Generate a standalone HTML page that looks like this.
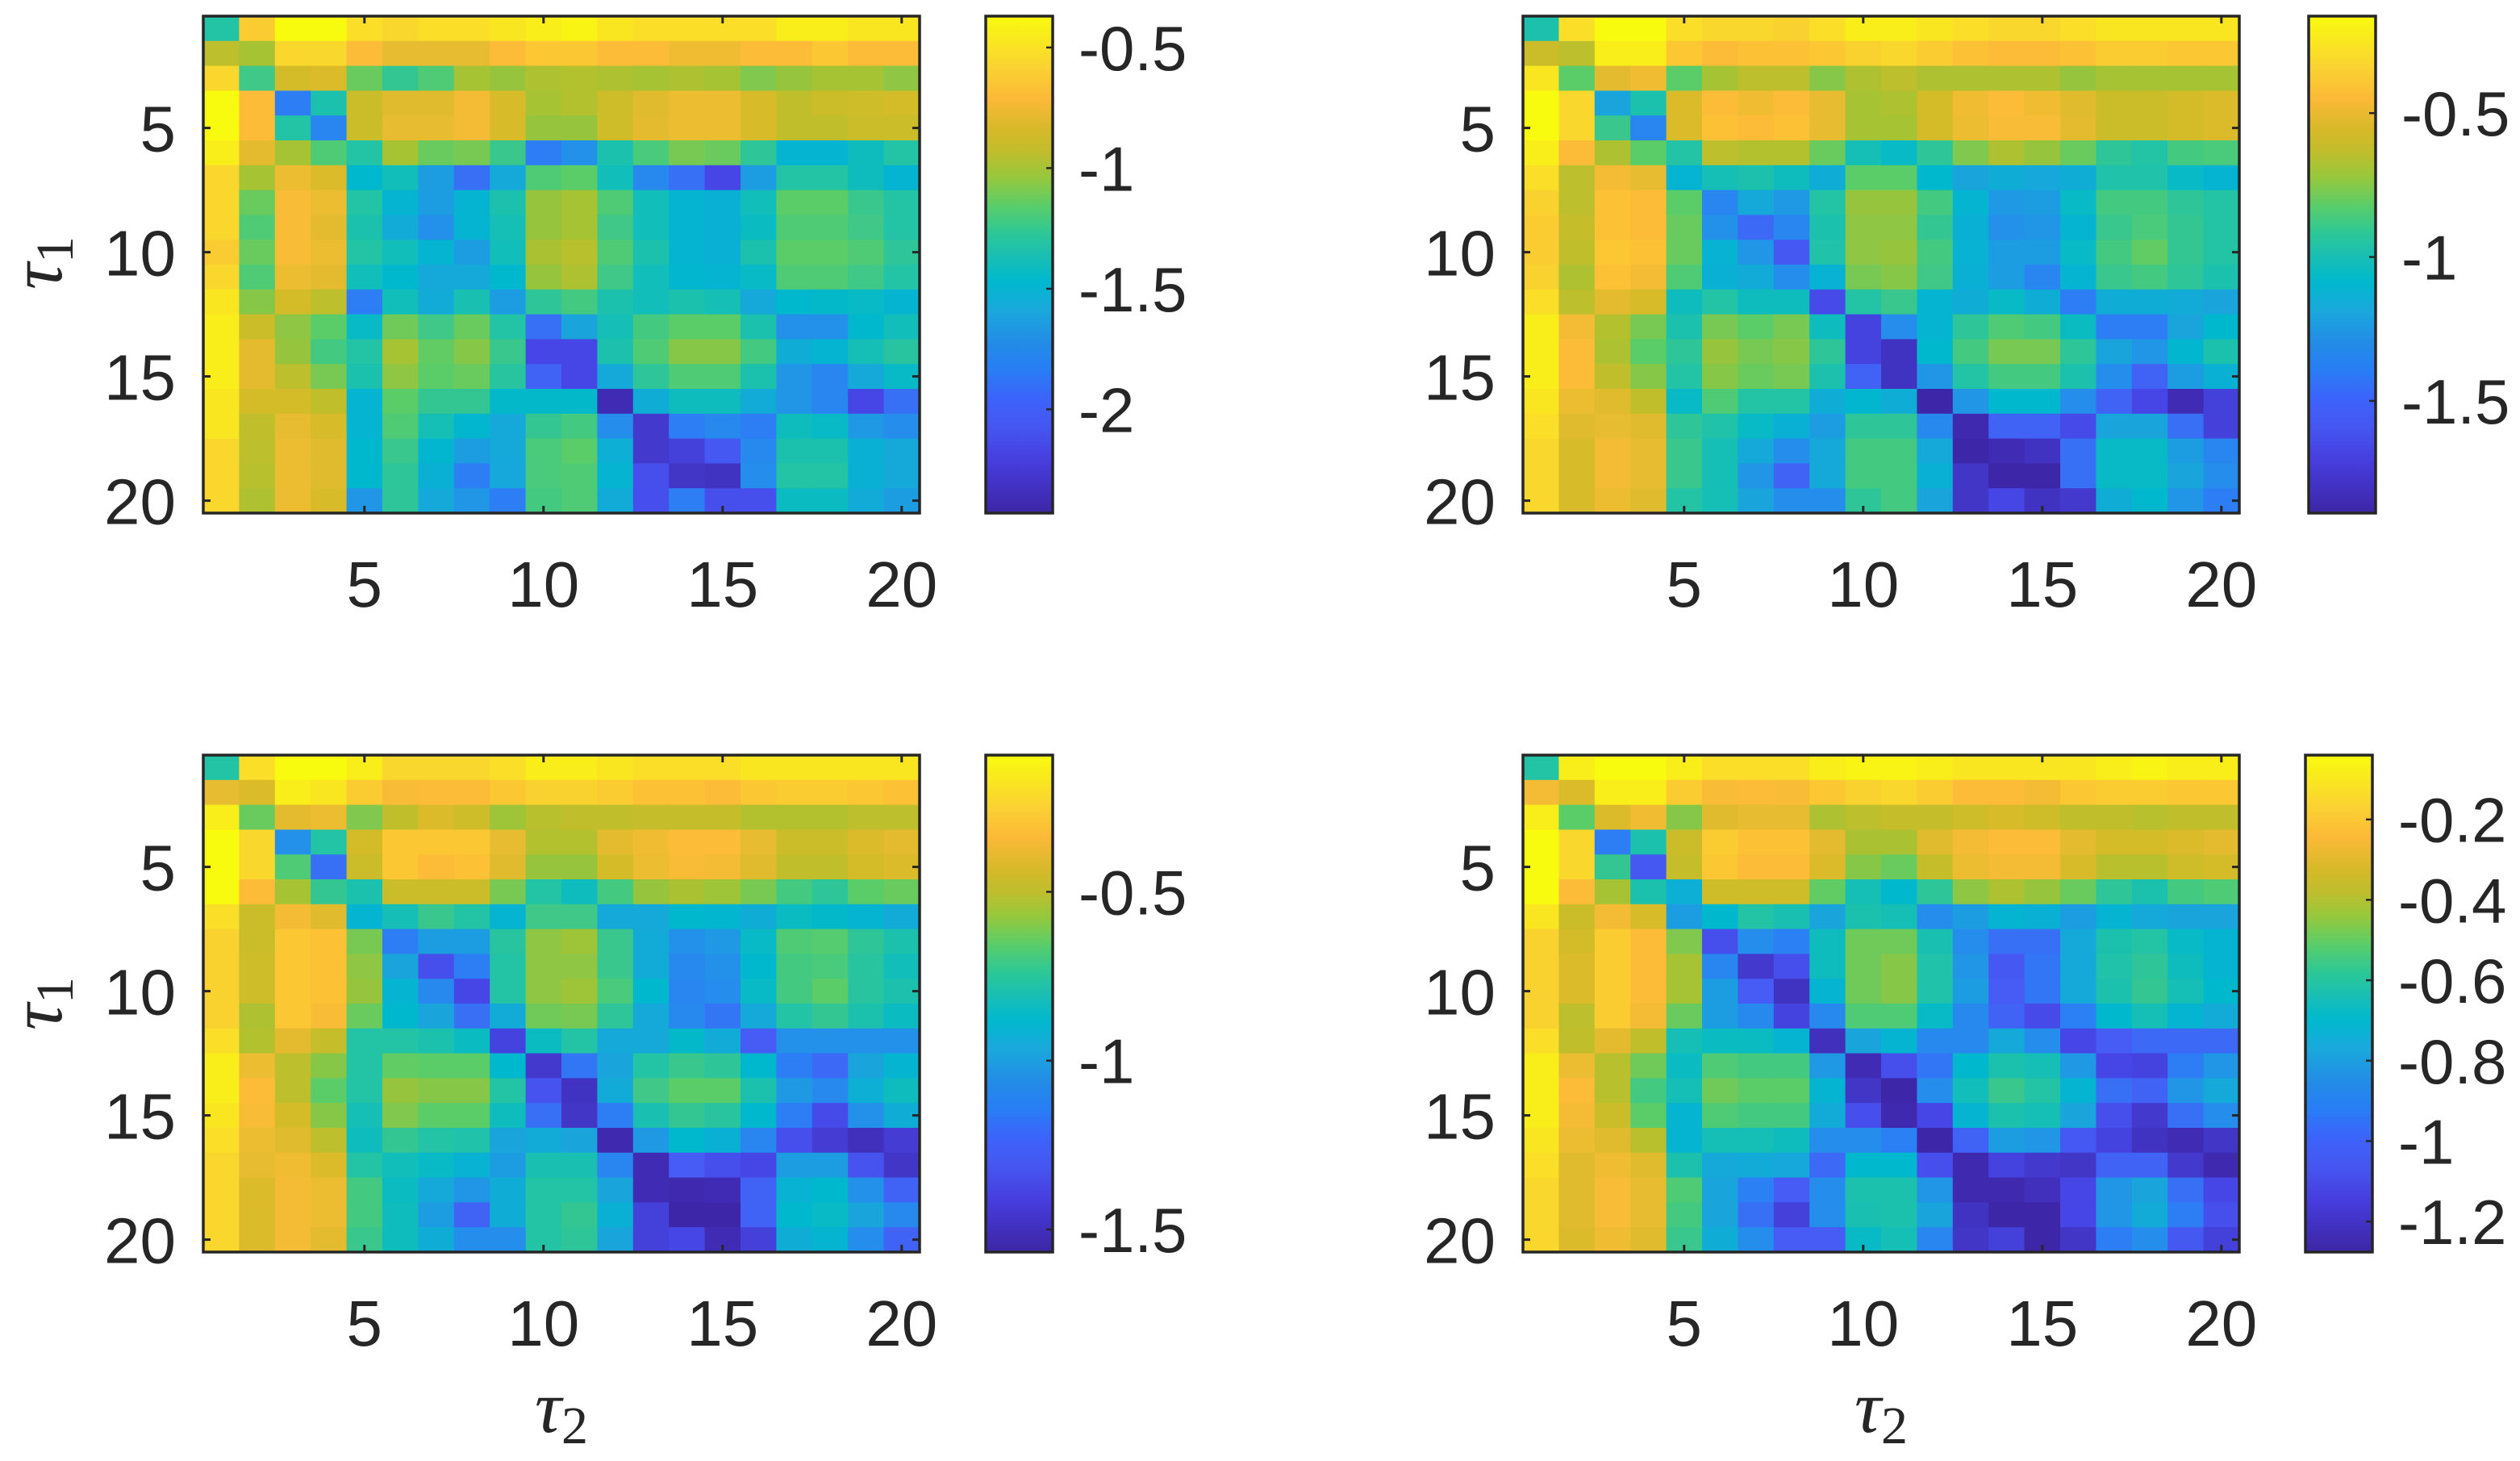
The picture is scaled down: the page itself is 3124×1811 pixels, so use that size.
<!DOCTYPE html>
<html><head><meta charset="utf-8"><title>Heatmaps</title>
<style>html,body{margin:0;padding:0;background:#fff}svg{display:block}</style></head>
<body>
<svg id="fig" xmlns="http://www.w3.org/2000/svg" width="3124" height="1811" viewBox="0 0 3124 1811">
<defs>
<linearGradient id="parula" x1="0" y1="1" x2="0" y2="0">
<stop offset="0" stop-color="rgb(62,38,168)"/><stop offset="0.01" stop-color="rgb(62,40,170)"/>
<stop offset="0.10" stop-color="rgb(70,60,220)"/><stop offset="0.17" stop-color="rgb(70,85,240)"/>
<stop offset="0.232" stop-color="rgb(60,100,250)"/><stop offset="0.287" stop-color="rgb(40,125,245)"/>
<stop offset="0.343" stop-color="rgb(35,140,230)"/><stop offset="0.412" stop-color="rgb(25,170,220)"/>
<stop offset="0.467" stop-color="rgb(0,185,205)"/><stop offset="0.516" stop-color="rgb(25,190,180)"/>
<stop offset="0.564" stop-color="rgb(45,200,150)"/><stop offset="0.619" stop-color="rgb(90,205,105)"/>
<stop offset="0.675" stop-color="rgb(150,200,60)"/><stop offset="0.723" stop-color="rgb(190,190,45)"/>
<stop offset="0.772" stop-color="rgb(215,185,40)"/><stop offset="0.834" stop-color="rgb(252,185,55)"/>
<stop offset="0.896" stop-color="rgb(250,210,50)"/><stop offset="1" stop-color="rgb(249,251,14)"/>
</linearGradient>
</defs>
</svg>
<script>
// values on a normalized colour-index scale (0 = darkest, 10 = brightest)
const panel1Values = [
[5,9.3,10,10,9.6,9.5,9.6,9.6,9.7,9.8,9.9,9.7,9.6,9.6,9.6,9.6,9.8,9.8,9.7,9.7],
[7.5,7,9.5,9.5,9,8.5,8.5,8.5,9,9.2,9.2,9,9,8.7,8.7,9,9,9.2,9,9],
[9.5,5.5,8,8.2,6.2,5.3,5.8,7,6.8,7.2,7.3,7.2,7,7.2,7,6.5,6.8,7,7,6.7],
[10,9,2,4.8,7.8,8.3,8.3,8.8,8.1,7,7.3,7.9,8.3,8.6,8.6,8.1,7.6,7.8,7.9,8],
[10,9,5,2.2,7.8,8.5,8.5,8.8,8.1,6.8,6.8,7.9,8.4,8.6,8.6,8.1,7.6,7.6,7.8,7.8],
[9.8,8.4,7,5.8,5,7,6.2,6.4,5.4,2,2.5,4.8,5.7,6.4,6.2,5.2,3.8,3.8,4.4,5],
[9.5,7,8.6,8.2,4,4.5,2.8,1.8,3.2,5.8,6,4.5,2.3,1.8,1,2.8,5,5,4.4,3.8],
[9.5,6.2,8.9,8.6,5,3.8,2.8,3.8,4.8,6.8,7,5.8,4.5,3.8,3.6,4.5,6,6,5.4,5],
[9.5,5.8,8.9,8.4,4.8,3.3,2.5,3.8,4.6,6.8,7,5.5,4.5,3.8,3.6,4.3,5.8,5.8,5.5,5],
[9.3,6.2,8.9,8.6,5,4.5,3.8,2.8,4.5,7.1,7.4,5.8,4.8,3.8,3.6,4.8,6,6,5.8,5.2],
[9.5,5.8,8.6,8.4,4.5,4,3.2,3.2,4,6.8,7.2,5.5,4.5,3.9,3.8,4.2,5.8,5.8,5.5,5],
[9.7,6.6,8,7.5,2,4.5,3.3,4.7,2.8,5.2,5.6,4.8,4.5,4.8,4.6,3.2,4,4.1,4.2,3.8],
[9.8,7.8,6.7,6,4.2,6.3,5.5,6.2,5,1.8,3,4.6,5.6,6,6,4.8,2.5,2.5,4,4.5],
[9.8,8.4,6.8,5.6,5,7,6.1,6.6,5.4,1,1,4.8,5.8,6.6,6.6,5.6,3.4,3.8,4.6,5.1],
[9.8,8.4,7.5,6.4,4.8,6.7,6,6.2,5.1,1.6,1,3.2,5.2,5.8,5.8,4.8,2.6,2.2,3.2,4.2],
[9.7,8,8,7.6,3.8,6,5.3,5.3,4.1,4.1,4.1,0.2,3.4,4.4,4.4,3.3,2.6,2.2,1,1.8],
[9.7,7.6,8.5,8.1,3.8,5.8,4.6,3.9,3.2,5.3,5.6,2.4,0.6,2,2.3,2,4.4,4.2,2.7,2.4],
[9.5,7.5,8.6,8.3,4,5.4,3.9,2.8,3.2,5.7,6,3.5,0.6,0.8,1.4,2.3,4.8,4.8,3.6,3.2],
[9.5,7.4,8.6,8.3,4,5.2,3.6,2,3.1,5.7,5.8,3.8,1.2,0.5,0.4,2.4,5,5,3.6,3.2],
[9.5,7.2,8.6,8.1,2.6,5.2,3.2,2.6,2,5.6,5.8,3.3,1.2,2,1.2,1.2,4.3,4.3,3.3,2.8]];
const panel2Values = [
[4.8,9.6,10,10,9.6,9.5,9.5,9.4,9.6,9.8,9.8,9.7,9.6,9.5,9.5,9.6,9.7,9.7,9.7,9.7],
[7.8,7.5,9.8,9.8,9.2,9,9.1,9.1,9.2,9.4,9.5,9.3,9.1,9,9,9.1,9.3,9.3,9.2,9.2],
[9.7,6,8.4,8.7,6,7,7.5,7.5,6.6,7.2,7.5,7.2,7.2,7.2,7.2,6.8,7,7,7,7],
[10,9.5,3,4.8,8.2,9,8.7,9,8.5,7,7.2,8,8.7,9,8.7,8.3,7.8,7.8,8,8.2],
[10,9.5,5.4,2.2,8.2,9.1,9,9.1,8.5,7,7,8,8.6,8.9,8.9,8.4,7.8,7.8,8,8.2],
[9.8,9,7.2,6,5,7.5,7.3,7.3,6.2,4.6,4.2,5.2,6.5,7.2,6.8,6.2,5.2,5,5.6,5.7],
[9.6,7.5,8.8,8.5,3.8,4.6,4.8,4.4,3.4,6,6,4,3,3.4,3.1,3.4,4.9,4.9,4.2,3.8],
[9.4,7.5,9.1,9,6,2.2,3.2,2.7,5,6.8,6.8,5.6,3.8,2.7,2.8,4.2,5.6,5.6,5.2,5],
[9.3,7.7,9.1,9,6.2,2.5,1.7,2.2,4.8,6.7,6.7,5.3,3.6,2.5,2.6,3.8,5.4,5.7,5.3,5],
[9.3,7.6,9.2,9.1,6.2,3.7,2.6,1.4,4.9,6.7,6.8,5.6,3.7,2.8,2.8,4.2,5.6,6.1,5.3,5],
[9.4,7.2,9.1,8.8,5.8,3.6,3.3,2.4,3.7,6.4,6.6,5.5,3.6,2.8,2.2,3.8,5.4,5.6,5.2,4.8],
[9.6,7.5,8.4,8.1,4.4,5,4.4,4.4,1.1,5,5.4,3.8,3.4,4.2,3.4,2,3.4,3.4,3.3,3],
[9.8,8.8,7.3,6.4,4.8,6.4,6,6.4,4.4,0.9,2.4,3.8,5.2,5.8,5.6,4.3,2,2,3,4],
[9.8,9,7.2,6,5.2,6.8,6.4,6.6,5.2,0.9,0.4,4,5.6,6.4,6.4,5.2,3,2.6,3.9,4.8],
[9.8,9,7.6,6.6,5,6.6,6.2,6.4,4.8,1.6,0.4,2.6,5,5.6,5.6,4.8,2.4,1.6,2.8,3.6],
[9.7,8.6,8.3,7.6,4.2,5.8,5,5,3.4,3.9,3.4,0,2.6,4,4,2.4,1.6,1,0.2,0.8],
[9.6,8.3,8.5,8.3,5.2,4.9,4.2,3.6,2.8,5.2,5.2,2.3,0.1,1.6,1.6,1.1,3,3,1.8,0.8],
[9.5,8.1,8.8,8.5,5.4,4.6,3.2,2.4,3.2,5.6,5.6,3.2,0,0.2,0.4,1.8,4.2,4.2,2.8,2.2],
[9.5,8.1,8.8,8.5,5.4,4.6,2.6,1.6,3.2,5.6,5.6,3.6,0.5,0,0,1.8,4.2,4.2,3,2.4],
[9.5,8.1,8.6,8.3,5,4.6,3,2.4,2.4,5.2,5.6,3,0.5,1,0.4,0.6,3.4,4,2.6,2]];
const panel3Values = [
[5,9.6,10,10,9.8,9.5,9.5,9.5,9.6,9.8,9.8,9.7,9.6,9.6,9.6,9.7,9.7,9.7,9.7,9.7],
[8.5,8.2,9.8,9.7,9.3,8.9,9,9,9.2,9.4,9.4,9.3,9.1,9.1,9,9.2,9.3,9.3,9.2,9.1],
[9.8,6.2,8.4,8.6,6.5,7.6,8.2,7.9,6.9,7.4,7.6,7.6,7.7,7.7,7.7,7.3,7.3,7.3,7.5,7.5],
[10,9.5,2.5,5,8,9.2,9.2,9.2,8.5,7.3,7.3,8.4,8.7,9,9,8.5,7.8,7.8,8.2,8.4],
[10,9.5,5.8,1.8,7.8,9.2,9,9.1,8.3,6.8,6.8,8,8.6,8.9,8.8,8.3,7.6,7.6,8,8.2],
[10,9,7,5.3,4.8,7.8,7.8,7.8,6.4,5,4.4,5.6,6.8,7.1,6.9,6.4,5.6,5.2,6,6.2],
[9.6,7.8,8.8,8.3,3.8,4.6,5.4,5,3.8,5.5,5.5,3.2,3.2,4,3.9,3.4,4.3,4.1,3.8,3.3],
[9.4,7.8,9.2,9.1,6.4,2,2.8,2.8,5.1,6.7,6.9,5.4,3.3,2.5,2.7,4.2,5.8,5.9,5.2,4.8],
[9.4,7.9,9.2,9.1,6.7,3,1.2,2,5,6.7,6.7,5.4,3.3,2.3,2.5,4,5.6,5.7,5.1,4.5],
[9.4,7.9,9.2,9.1,6.8,3.8,2.3,1,5,6.7,6.9,5.7,4,2.2,2.4,4.2,5.6,6,5.1,4.8],
[9.4,7.2,9.2,8.9,6.2,4,3,1.8,3.3,6.3,6.4,5.2,3.2,2.3,1.9,3.2,5,5.3,4.8,4.3],
[9.6,7.3,8.4,7.7,5,5,4.8,4.3,0.9,4.3,5,3.2,3.2,4.1,3.3,1.5,2.5,2.5,2.5,2.5],
[9.8,8.6,7.5,6.6,5,6.1,6,6,4,0.6,1.9,3,5,5.4,5.2,4,2,1.7,3,3.8],
[9.8,9,7.5,6,5,6.8,6.6,6.6,5,1.3,0.4,3.3,5.5,6,6,4.8,2.7,2.3,3.5,4.4],
[9.7,8.9,8,6.6,4.6,6.5,6,6,4.4,1.8,0.5,2,4.7,5.3,5.1,4,2,1.1,2.5,3.4],
[9.6,8.6,8.3,7.5,4.4,5.3,5,4.9,3,3.3,3,0.1,2.7,4,3.6,2.2,1.2,0.7,0.3,0.7],
[9.5,8.5,8.7,8.2,5,4.5,4.2,3.7,2.8,4.7,4.7,2.2,0.2,1.5,1.2,1,2.8,2.8,1.3,0.5],
[9.5,8.2,8.8,8.6,5.6,4.3,3.2,2.6,3.4,5,5,3,0.2,0.1,0.2,1.6,3.7,4,2.5,1.6],
[9.5,8.2,8.8,8.6,5.6,4.4,2.8,1.6,3.4,5,5.3,3.6,0.8,0,0,1.6,4,4.2,3,2.3],
[9.5,8.2,8.8,8.4,5.4,4.4,3.4,2.4,2.4,5,5.2,3,0.8,1,0.2,0.8,3.4,3.8,2.4,1.6]];
const panel4Values = [
[5,9.8,10,10,9.8,9.6,9.6,9.6,9.8,9.9,9.9,9.8,9.7,9.7,9.7,9.7,9.8,9.9,9.8,9.8],
[8.8,8.2,9.8,9.8,9.3,8.9,9,8.9,9.2,9.4,9.5,9.3,9,9,8.8,9.2,9.3,9.3,9.2,9.2],
[9.8,6,8.2,8.7,6.6,8.3,8.5,8.5,7.2,7.5,7.7,7.7,7.9,8.1,7.9,7.6,7.6,7.4,7.6,7.6],
[10,9.5,2,4.8,7.8,9.3,9.1,9.1,8.4,7.1,7.1,8.3,8.8,9,9,8.4,8,8,8.2,8.4],
[10,9.5,5.3,1.4,7.7,9.2,9,9,8.2,6.6,6.2,7.7,8.6,8.8,8.8,8.1,7.4,7.4,7.9,8],
[10,9,7,4.8,3.5,7.9,7.9,7.9,6.1,4.6,4,5.2,6.7,7.2,6.8,6.2,5.2,4.8,5.6,5.8],
[9.7,7.8,8.8,8.1,2.8,4,5,4.7,3,4.8,4.6,2.4,2.8,3.8,3.6,2.8,3.8,3.2,3,3],
[9.4,8,9.3,9,6.5,1.2,2.4,2.1,4.4,6.3,6.3,4.7,2.4,1.8,1.8,3.2,4.8,5,4.2,3.8],
[9.4,8.2,9.3,9,7,2.2,0.6,1.2,4.4,6.3,6.6,4.9,2.6,1.4,1.9,3.2,4.9,5.2,4.4,3.8],
[9.4,8.2,9.3,9,7,2.8,1.5,0.4,3.8,6.3,6.6,4.9,2.8,1.5,1.9,3.2,4.8,5.3,4.6,4],
[9.4,7.5,9.3,8.8,6.2,2.8,2.3,0.9,2.3,5.8,5.8,4.2,2.3,1.6,1.1,2.1,4,4.6,3.8,3.3],
[9.6,7.6,8.4,7.6,4.6,4.3,4.3,3.8,0.3,3,3.8,2.3,2.3,3.2,2.4,1,1.5,1.7,1.7,1.7],
[9.8,8.6,7.4,6.3,4.3,5.8,5.6,5.6,2.7,0.2,1.2,1.9,4,4.8,4.6,2.7,1,0.9,2,2.6],
[9.8,9,7.4,5.6,4.6,6.3,6,6,3.8,0.5,0,2.4,4.5,5.4,5,3.8,1.8,1.6,2.6,3.2],
[9.8,8.8,7.8,6,3.8,5.8,5.6,5.6,3.3,1.2,0.1,1,3.8,4.8,4.6,3,1.2,0.6,1.8,2.4],
[9.7,8.6,8.3,7.4,3.8,4.6,4.6,4.4,2.4,2.4,2.1,0,1.6,2.8,2.6,1.4,0.9,0.4,0.2,0.5],
[9.6,8.3,8.7,8.3,4.8,3.2,3.3,3.1,1.7,4,4,1.2,0.1,0.9,0.6,0.5,1.6,1.6,0.6,0.1],
[9.5,8.3,8.9,8.5,5.8,3,2.1,1.5,2.4,4.8,4.8,2.6,0.1,0.1,0.3,1,2.6,3,1.8,1],
[9.5,8.3,8.9,8.5,5.6,3,1.8,0.8,2.4,4.7,4.8,3,0.4,0,0,1,2.6,3.3,2,1.2],
[9.5,8.2,8.7,8.3,5.4,3.4,2.4,1.5,1.5,4.2,4.6,2.2,0.5,0.8,0,0.5,2,2.4,1.4,0.8]];
const axisTicks = [5, 10, 15, 20];
const axisTickLabels = ["5", "10", "15", "20"];
const cbTicks1 = [-0.5, -1, -1.5, -2];
const cbTickLabels1 = ["-0.5", "-1", "-1.5", "-2"];
const cbTicks2 = [-0.5, -1, -1.5];
const cbTickLabels2 = ["-0.5", "-1", "-1.5"];
const cbTicks3 = [-0.5, -1, -1.5];
const cbTickLabels3 = ["-0.5", "-1", "-1.5"];
const cbTicks4 = [-0.2, -0.4, -0.6, -0.8, -1, -1.2];
const cbTickLabels4 = ["-0.2", "-0.4", "-0.6", "-0.8", "-1", "-1.2"];
const cLimits1 = [-2.43, -0.37];
const cLimits2 = [-1.89, -0.163];
const cLimits3 = [-1.567, -0.095];
const cLimits4 = [-1.276, -0.04];

const NS = "http://www.w3.org/2000/svg";
const svg = document.getElementById("fig");
const cmap = [[0,[62,38,168]],[1,[70,70,230]],[1.5,[70,92,245]],[2,[45,125,245]],[3,[25,165,220]],[4,[0,184,205]],[5,[35,195,165]],[6,[90,205,105]],[7,[165,195,50]],[8,[212,187,40]],[9,[252,188,55]],[9.5,[250,215,45]],[10,[249,251,14]]];
function colorOf(v){
  v = Math.max(0, Math.min(10, v));
  for (let i=0;i<cmap.length-1;i++){
    const a=cmap[i], b=cmap[i+1];
    if (v<=b[0]){ const f=(v-a[0])/(b[0]-a[0]);
      return "rgb("+a[1].map((c,k)=>Math.round(c+(b[1][k]-c)*f)).join(",")+")"; }
  }
  return "rgb(249,251,14)";
}
function mk(tag, attrs, parent){
  const e=document.createElementNS(NS,tag);
  for (const k in attrs) e.setAttribute(k, attrs[k]);
  (parent||svg).appendChild(e); return e;
}
const ink="#262626";
function drawPanel(id, vals, ax, cb, clim, cbTicks, cbLabels){
  const g = mk("g",{});
  
  
  const n = vals.length, m = vals[0].length;
  const cw = (ax.x1-ax.x0)/m, ch = (ax.y1-ax.y0)/n;
  const xs = c => ax.x0 + (c-0.5)*cw;
  const ys = r => ax.y0 + (r-0.5)*ch;
  vals.forEach((row, r) => row.forEach((v, c) => {
    const w = (c === m-1) ? cw : cw+0.6, h = (r === n-1) ? ch : ch+0.6;
    const rc = mk("rect",{x:(ax.x0+c*cw).toFixed(2), y:(ax.y0+r*ch).toFixed(2), width:w.toFixed(2), height:h.toFixed(2), fill:colorOf(v)}, g);
    
    
  }));
  const fr = mk("rect",{x:ax.x0, y:ax.y0, width:ax.x1-ax.x0, height:ax.y1-ax.y0, fill:"none", stroke:ink, "stroke-width":3.5}, g);
  
  
  axisTicks.forEach((t, i) => {
    const x = xs(t), y = ys(t);
    mk("line",{x1:x,y1:ax.y0,x2:x,y2:ax.y0+9,stroke:ink,"stroke-width":3},g);
    mk("line",{x1:x,y1:ax.y1,x2:x,y2:ax.y1-9,stroke:ink,"stroke-width":3},g);
    mk("line",{x1:ax.x0,y1:y,x2:ax.x0+9,y2:y,stroke:ink,"stroke-width":3},g);
    mk("line",{x1:ax.x1,y1:y,x2:ax.x1-9,y2:y,stroke:ink,"stroke-width":3},g);
    const xl = mk("text",{x:x, y:ax.y1+116, "text-anchor":"middle", "font-family":"Liberation Sans, sans-serif", "font-size":80, fill:ink}, g);
    xl.textContent = axisTickLabels[i];
    
    
    const yl = mk("text",{x:ax.x0-34, y:y+29, "text-anchor":"end", "font-family":"Liberation Sans, sans-serif", "font-size":80, fill:ink}, g);
    yl.textContent = axisTickLabels[i];
    
    
  });
  const cbr = mk("rect",{x:cb.x0, y:ax.y0, width:cb.x1-cb.x0, height:ax.y1-ax.y0, fill:"url(#parula)", stroke:ink, "stroke-width":3.5}, g);
  
  
  const cy = v => ax.y1 - (v-clim[0])/(clim[1]-clim[0])*(ax.y1-ax.y0);
  cbTicks.forEach((t, i) => {
    const y = cy(t);
    mk("line",{x1:cb.x1,y1:y,x2:cb.x1-8,y2:y,stroke:ink,"stroke-width":2.5},g);
    const tl = mk("text",{x:cb.x1+32, y:y+28, "font-family":"Liberation Sans, sans-serif", "font-size":78, fill:ink}, g);
    tl.textContent = cbLabels[i];
    
    
  });
}
drawPanel("heatmap-top-left", panel1Values, {x0:252,x1:1140,y0:20,y1:636}, {x0:1222,x1:1305}, cLimits1, cbTicks1, cbTickLabels1);
drawPanel("heatmap-top-right", panel2Values, {x0:1888,x1:2776,y0:20,y1:636}, {x0:2862,x1:2945}, cLimits2, cbTicks2, cbTickLabels2);
drawPanel("heatmap-bottom-left", panel3Values, {x0:252,x1:1140,y0:936,y1:1552}, {x0:1222,x1:1305}, cLimits3, cbTicks3, cbTickLabels3);
drawPanel("heatmap-bottom-right", panel4Values, {x0:1888,x1:2776,y0:936,y1:1552}, {x0:2858,x1:2941}, cLimits4, cbTicks4, cbTickLabels4);

function tauLabel(name, x, y, sub, rot){
  const t = mk("text",{x:x, y:y, "text-anchor":"middle", "font-family":"Liberation Serif, serif", "font-style":"italic", "font-size":92, fill:ink, transform: rot ? "rotate(-90 "+x+" "+y+")" : ""});
  
  
  t.textContent = "τ";
  const s = mk("tspan",{"font-style":"normal","font-size":66, dy:14}, t);
  s.textContent = sub;
}
tauLabel("y-axis-title-top", 76, 326, "1", true);
tauLabel("y-axis-title-bottom", 76, 1244, "1", true);
tauLabel("x-axis-title-left", 696, 1775, "2", false);
tauLabel("x-axis-title-right", 2332, 1775, "2", false);
</script>
</body></html>
